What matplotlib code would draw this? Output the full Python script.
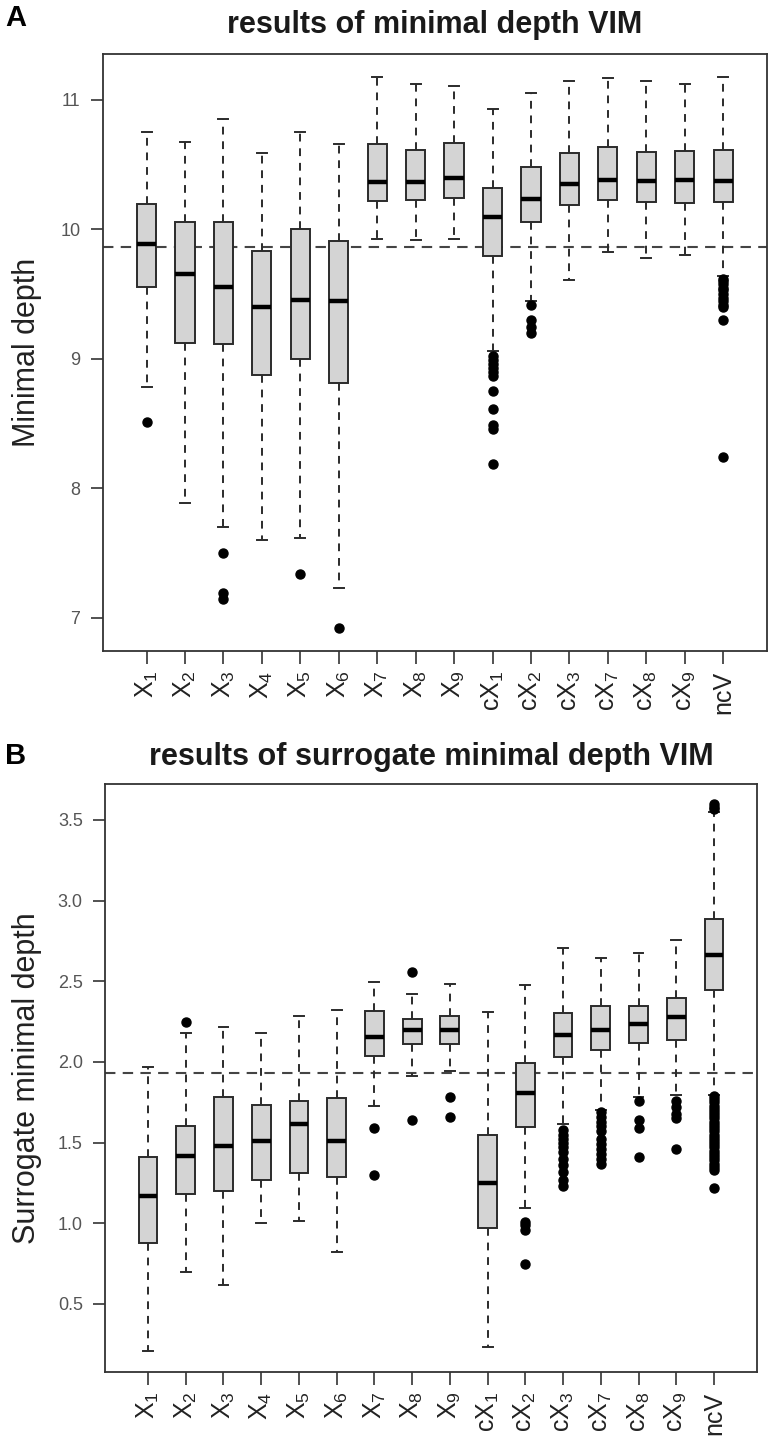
import matplotlib
matplotlib.use("Agg")
import matplotlib.pyplot as plt

plt.rcParams['font.family'] = ['Liberation Sans', 'DejaVu Sans']
plt.rcParams['mathtext.default'] = 'regular'

# variable names (x axis)
labels = ['X$_1$', 'X$_2$', 'X$_3$', 'X$_4$', 'X$_5$', 'X$_6$', 'X$_7$', 'X$_8$', 'X$_9$',
          'cX$_1$', 'cX$_2$', 'cX$_3$', 'cX$_7$', 'cX$_8$', 'cX$_9$', 'ncV']

# A: minimal depth
lo_a  = [8.78, 7.89, 7.70, 7.605, 7.62, 7.232, 9.923, 9.917, 9.923, 9.058, 9.45, 9.61, 9.826, 9.776, 9.80, 9.64]
q1_a  = [9.556, 9.122, 9.113, 8.88, 8.996, 8.813, 10.223, 10.229, 10.24, 9.792, 10.06, 10.19, 10.226, 10.214, 10.207, 10.214]
med_a = [9.89, 9.654, 9.556, 9.40, 9.459, 9.45, 10.367, 10.367, 10.40, 10.10, 10.238, 10.35, 10.382, 10.376, 10.382, 10.376]
q3_a  = [10.198, 10.055, 10.061, 9.83, 10.0, 9.908, 10.663, 10.611, 10.67, 10.32, 10.483, 10.587, 10.633, 10.596, 10.605, 10.611]
hi_a  = [10.755, 10.672, 10.856, 10.59, 10.755, 10.663, 11.177, 11.122, 11.107, 10.932, 11.055, 11.147, 11.17, 11.147, 11.122, 11.177]
out_a = [[8.51], [], [7.50, 7.19, 7.15], [], [7.34], [6.92], [], [], [],
         [9.02, 8.99, 8.96, 8.93, 8.90, 8.87, 8.75, 8.61, 8.49, 8.46, 8.19],
         [9.42, 9.30, 9.25, 9.20], [], [], [], [],
         [9.62, 9.60, 9.58, 9.55, 9.53, 9.50, 9.47, 9.45, 9.42, 9.40, 9.30, 8.24]]
thr_a = 9.868

# B: surrogate minimal depth
lo_b  = [0.21, 0.70, 0.62, 1.0, 1.013, 0.822, 1.725, 1.913, 1.943, 0.23, 1.097, 1.614, 1.702, 1.782, 1.794, 1.793]
q1_b  = [0.875, 1.18, 1.197, 1.27, 1.311, 1.284, 2.034, 2.11, 2.11, 0.972, 1.598, 2.028, 2.074, 2.115, 2.133, 2.448]
med_b = [1.167, 1.415, 1.477, 1.507, 1.617, 1.507, 2.154, 2.2, 2.2, 1.247, 1.81, 2.168, 2.2, 2.234, 2.276, 2.666]
q3_b  = [1.41, 1.605, 1.782, 1.731, 1.759, 1.778, 2.317, 2.269, 2.282, 1.548, 1.996, 2.306, 2.344, 2.349, 2.395, 2.888]
hi_b  = [1.97, 2.177, 2.218, 2.177, 2.287, 2.32, 2.494, 2.42, 2.482, 2.31, 2.48, 2.705, 2.647, 2.677, 2.758, 3.55]
out_b = [[], [2.25], [], [], [], [], [1.59, 1.30], [2.56, 1.64], [1.78, 1.66], [],
         [1.01, 0.99, 0.96, 0.75],
         [1.58, 1.55, 1.52, 1.50, 1.47, 1.44, 1.40, 1.36, 1.32, 1.27, 1.23],
         [1.69, 1.66, 1.63, 1.60, 1.57, 1.52, 1.49, 1.46, 1.43, 1.40, 1.37],
         [1.76, 1.64, 1.59, 1.41],
         [1.76, 1.72, 1.68, 1.65, 1.46],
         [3.60, 3.58, 3.57, 1.79, 1.77, 1.75, 1.73, 1.71, 1.69, 1.67, 1.65, 1.63, 1.61, 1.59,
          1.57, 1.55, 1.53, 1.51, 1.49, 1.47, 1.45, 1.43, 1.41, 1.39, 1.37, 1.35, 1.33, 1.22]]
thr_b = 1.931


def make_stats(lo, q1, med, q3, hi, out):
    return [dict(whislo=a, q1=b, med=c, q3=d, whishi=e, fliers=f)
            for a, b, c, d, e, f in zip(lo, q1, med, q3, hi, out)]


def draw_panel(ax, stats, thr, ylabel, ylim, yticks, yticklabels, ylab_x):
    ax.bxp(stats, positions=range(1, len(stats) + 1), widths=0.5, capwidths=0.26,
           patch_artist=True,
           boxprops=dict(facecolor='#d4d4d4', edgecolor='#2b2b2b', linewidth=1.4),
           medianprops=dict(color='black', linewidth=3.2, solid_capstyle='butt'),
           whiskerprops=dict(color='#2b2b2b', linewidth=1.4, linestyle=(0, (4, 3.5))),
           capprops=dict(color='#2b2b2b', linewidth=1.4),
           flierprops=dict(marker='o', markerfacecolor='black', markeredgecolor='black',
                           markersize=6.5, linestyle='none'))
    ax.axhline(thr, color='#444444', linewidth=1.5, linestyle=(0, (5, 3.5)), zorder=0.5)
    ax.set_xlim(-0.14, 17.14)
    ax.set_ylim(*ylim)
    ax.set_xticks(range(1, len(labels) + 1))
    ax.set_xticklabels(labels, rotation=90, fontsize=18, color='#222222')
    ax.set_yticks(yticks)
    ax.set_yticklabels(yticklabels, fontsize=13, color='#555555')
    ax.set_ylabel(ylabel, fontsize=22, color='#222222')
    ax.yaxis.set_label_coords(ylab_x, 0.5)
    ax.tick_params(direction='out', length=9, width=1.2, color='#333333', pad=7)
    ax.tick_params(axis='x', pad=5)
    for s in ax.spines.values():
        s.set_linewidth(1.3)
        s.set_color('#333333')


fig = plt.figure(figsize=(7.72, 14.39), dpi=100)
H = 1439.0
W = 772.0

# panel A axes: x 102.7..767 px, y 54..651 px
ax1 = fig.add_axes([102.7 / W, 1 - 651 / H, (767 - 102.7) / W, (651 - 54) / H])
draw_panel(ax1, make_stats(lo_a, q1_a, med_a, q3_a, hi_a, out_a), thr_a,
           'Minimal depth', (6.745, 11.355), [7, 8, 9, 10, 11], ['7', '8', '9', '10', '11'],
           -0.091)

# panel B axes: x 105..757 px, y 784..1372 px
ax2 = fig.add_axes([105 / W, 1 - 1372 / H, (757 - 105) / W, (1372 - 784) / H])
draw_panel(ax2, make_stats(lo_b, q1_b, med_b, q3_b, hi_b, out_b), thr_b,
           'Surrogate minimal depth', (0.078, 3.723),
           [0.5, 1.0, 1.5, 2.0, 2.5, 3.0, 3.5], ['0.5', '1.0', '1.5', '2.0', '2.5', '3.0', '3.5'],
           -0.097)

fig.text((102.7 + 767) / 2 / W, 1 - 25 / H, 'results of minimal depth VIM', ha='center',
         va='center', fontsize=22, fontweight='bold', color='#1a1a1a')
fig.text((105 + 757) / 2 / W, 1 - 757 / H, 'results of surrogate minimal depth VIM', ha='center',
         va='center', fontsize=22, fontweight='bold', color='#1a1a1a')
fig.text(5 / W, 1 - 18 / H, 'A', ha='left', va='center', fontsize=21, fontweight='bold',
         color='black')
fig.text(5 / W, 1 - 756 / H, 'B', ha='left', va='center', fontsize=21, fontweight='bold',
         color='black')

fig.savefig('out.png', dpi=100)
